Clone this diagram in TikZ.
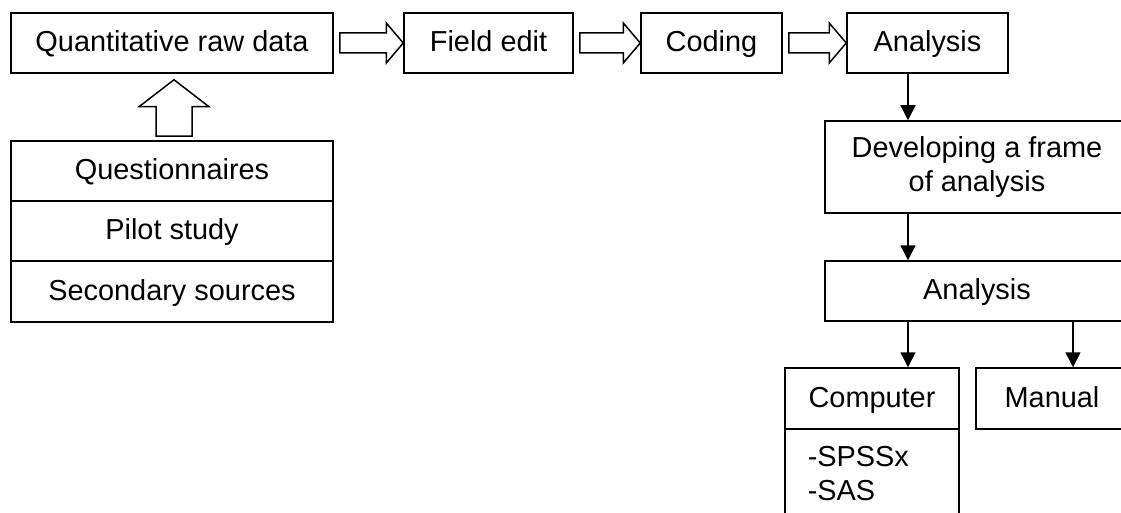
\documentclass[tikz,border=0pt]{standalone}
\usepackage{fontspec}
\setmainfont{Liberation Sans}
\usetikzlibrary{arrows.meta,calc}
\tikzset{
  boxbase/.style={draw, line width=1.5pt, rectangle, inner sep=0pt, anchor=center,
    font=\fontsize{28.9}{33.3}\selectfont, align=center},
  box/.style={boxbase, text height=21pt, text depth=4pt},
  arr/.style={line width=1.5pt, -{Triangle[length=15pt,width=15pt]}},
  hollow/.style={draw, line width=1.5pt, fill=white, line join=miter},
}
\newcommand{\harrow}[2]{%
  \draw[hollow] ($(#1.east)+(6,-10)$) -- ($(#2.west)+(-17,-10)$) -- ($(#2.west)+(-17,-20)$)
    -- (#2.west) -- ($(#2.west)+(-17,20)$) -- ($(#2.west)+(-17,10)$) -- ($(#1.east)+(6,10)$) -- cycle;}
\begin{document}
\begin{tikzpicture}[x=1pt,y=-1pt]
\useasboundingbox (0,0) rectangle (1121,513);
\clip (0,0) rectangle (1121,513);
% top row
\node[box, minimum width=322pt, minimum height=60pt] (q) at (172,43) {Quantitative raw data};
\node[box, minimum width=169pt, minimum height=60pt] (fe) at (488.5,43) {Field edit};
\node[box, minimum width=141pt, minimum height=60pt] (cod) at (711.5,43) {Coding};
\node[box, minimum width=161pt, minimum height=60pt] (ana) at (927.5,43) {Analysis};
% stack
\node[box, minimum width=322pt, minimum height=60pt] (qu) at (172,171) {Questionnaires};
\node[box, minimum width=322pt, minimum height=60pt] (pil) at (172,231) {Pilot study};
\node[box, minimum width=322pt, minimum height=61pt] (sec) at (172,291.5) {Secondary sources};
% right column
\node[boxbase, minimum width=304pt, minimum height=92pt] (dev) at (977,167) {Developing a frame\\of analysis};
\node[box, minimum width=304pt, minimum height=60pt] (ana2) at (977,291) {Analysis};
\node[box, minimum width=174pt, minimum height=61pt] (comp) at (872,398.5) {Computer};
\node[boxbase, minimum width=174pt, minimum height=102pt] (clist) at (872,480) {};
\node[boxbase, anchor=north west, align=left, draw=none] (ctext) at (807,446) {-SPSSx\\-SAS};
\node[box, minimum width=152pt, minimum height=61pt] (man) at (1052,398.5) {Manual};
% hollow arrows
\harrow{q}{fe}
\harrow{fe}{cod}
\harrow{cod}{ana}
\draw[hollow] ($(qu.north)+(-16,-4)$) -- ($(q.south)+(-16,33)$) -- ($(q.south)+(-33,33)$)
  -- ($(q.south)+(2,6)$) -- ($(q.south)+(37,33)$) -- ($(q.south)+(20,33)$) -- ($(qu.north)+(20,-4)$) -- cycle;
% thin arrows
\coordinate (xa) at (908,0);
\coordinate (xb) at (1073,0);
\draw[arr] (xa |- ana.south) -- (xa |- dev.north);
\draw[arr] (xa |- dev.south) -- (xa |- ana2.north);
\draw[arr] (xa |- ana2.south) -- (xa |- comp.north);
\draw[arr] (xb |- ana2.south) -- (xb |- man.north);
\end{tikzpicture}
\end{document}
